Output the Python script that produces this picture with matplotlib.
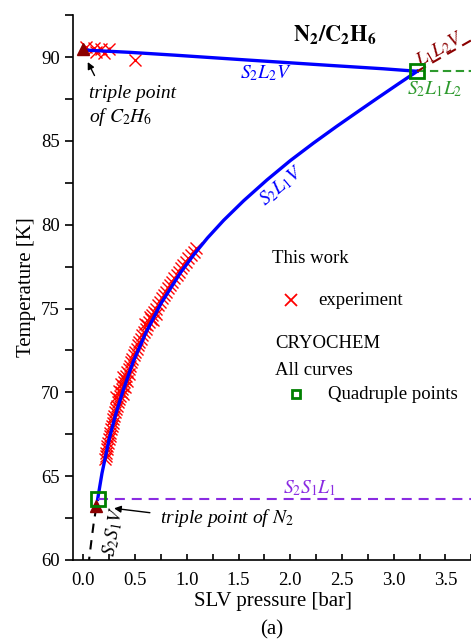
import matplotlib
matplotlib.use("Agg")
import matplotlib.pyplot as plt
from matplotlib.ticker import MultipleLocator

plt.rcParams['font.family'] = ['Liberation Serif', 'DejaVu Serif']
plt.rcParams['mathtext.fontset'] = 'stix'

# --- CRYOCHEM curves (p in bar, T in K) ---
s2l2v_p = [0.0, 0.45, 0.889, 1.517, 2.386, 2.9, 3.227]
s2l2v_T = [90.42, 90.28, 90.11, 89.85, 89.5, 89.3, 89.15]

s2l1v_p = [0.138, 0.18, 0.25, 0.31, 0.386, 0.48, 0.60, 0.75, 0.937, 1.066, 1.2,
           1.356, 1.55, 1.775, 2.0, 2.225, 2.45, 2.676, 2.85, 3.05, 3.227]
s2l1v_T = [63.62, 65.17, 67.22, 68.63, 70.14, 71.8, 73.5, 75.3, 77.12, 78.2, 79.21,
           80.26, 81.43, 82.67, 83.82, 84.87, 85.87, 86.84, 87.58, 88.42, 89.15]

s2s1v_p = [0.125, 0.10, 0.075, 0.055]
s2s1v_T = [63.15, 62.2, 61.0, 60.0]

s2s1l1_p = [0.138, 3.8]
s2s1l1_T = [63.62, 63.62]

s2l1l2_p = [3.227, 3.8]
s2l1l2_T = [89.15, 89.15]

l1l2v_p = [3.227, 3.75]
l1l2v_T = [89.15, 91.0]

# quadruple points and pure-component triple points
quad_p = [0.138, 3.227]
quad_T = [63.62, 89.15]
triple_p = [0.0, 0.125]
triple_T = [90.45, 63.2]

# --- experimental SLV points (this work) ---
exp_T = [66.0, 66.2, 66.4, 66.6, 66.8, 67.0, 67.2, 67.4, 67.6, 67.8,
         68.0, 68.2, 68.4, 68.6, 68.8, 69.0, 69.2, 69.4, 69.6, 69.8,
         70.0, 70.2, 70.4, 70.6, 70.8, 71.0, 71.2, 71.4, 71.6, 71.8,
         72.0, 72.2, 72.4, 72.6, 72.8, 73.0, 73.2, 73.4, 73.6, 73.8,
         74.0, 74.2, 74.4, 74.6, 74.8, 75.0, 75.2, 75.4, 75.6, 75.8,
         76.0, 76.2, 76.4, 76.6, 76.8, 77.0, 77.2, 77.4, 77.6, 77.8,
         78.0, 78.2, 78.4, 78.6,
         69.7, 69.9, 70.1, 70.3, 70.5, 70.7, 70.9, 71.1,
         74.1, 74.3, 74.5, 74.7,
         90.6, 90.55, 90.5, 90.45, 90.3, 90.25, 89.85]
exp_p = [0.209, 0.215, 0.221, 0.227, 0.233, 0.239, 0.246, 0.253, 0.260, 0.267,
         0.274, 0.282, 0.290, 0.298, 0.306, 0.315, 0.323, 0.332, 0.342, 0.351,
         0.362, 0.372, 0.382, 0.393, 0.404, 0.415, 0.426, 0.438, 0.450, 0.462,
         0.474, 0.487, 0.500, 0.514, 0.528, 0.542, 0.556, 0.571, 0.586, 0.601,
         0.618, 0.634, 0.651, 0.668, 0.685, 0.703, 0.721, 0.739, 0.758, 0.777,
         0.796, 0.816, 0.837, 0.858, 0.879, 0.901, 0.923, 0.945, 0.968, 0.992,
         1.015, 1.040, 1.065, 1.090,
         0.32, 0.38, 0.34, 0.40, 0.36, 0.42, 0.38, 0.44,
         0.60, 0.67, 0.64, 0.70,
         0.03, 0.10, 0.17, 0.25, 0.12, 0.20, 0.50]

fig = plt.figure(figsize=(4.71, 6.41), dpi=100)
ax = fig.add_axes([0.155, 0.1264, 0.85, 0.85])

ax.plot(exp_p, exp_T, 'x', color='red', ms=8, mew=1.0, zorder=2)

ax.plot(s2l2v_p, s2l2v_T, color='#0000ff', lw=2.4, zorder=3)
ax.plot(s2l1v_p, s2l1v_T, color='#0000ff', lw=2.4, zorder=3)
ax.plot(s2s1v_p, s2s1v_T, color='black', lw=1.5, dashes=(4.5, 3.5), zorder=3)
ax.plot(s2s1l1_p, s2s1l1_T, color='#8a2be2', lw=1.5, dashes=(4.8, 3.3), zorder=3)
ax.plot(s2l1l2_p, s2l1l2_T, color='#2e9a2e', lw=1.5, dashes=(4, 2.2), zorder=3)
ax.plot(l1l2v_p, l1l2v_T, color='#8b0000', lw=1.5, dashes=(4.8, 3.5), zorder=3)

ax.plot(triple_p, triple_T, '^', color='#8b0000', ms=9, zorder=4)
ax.plot(quad_p, quad_T, 's', mfc='none', mec='#008000', mew=2, ms=9.5, zorder=5)

# curve labels
ax.text(1.76, 89.05, r'$S_2L_2V$', color='#0000ff', fontsize=14, ha='center', va='center')
ax.text(1.91, 82.3, r'$S_2L_1V$', color='#0000ff', fontsize=14, ha='center', va='center',
        rotation=40)
ax.text(2.19, 64.3, r'$S_2S_1L_1$', color='#8a2be2', fontsize=14, ha='center', va='center')
ax.text(3.40, 88.1, r'$S_2L_1L_2$', color='#2e9a2e', fontsize=14, ha='center', va='center')
ax.text(3.45, 90.45, r'$L_1L_2V$', color='#8b0000', fontsize=14, ha='center', va='center',
        rotation=30)
ax.text(0.29, 61.7, r'$S_2S_1V$', color='black', fontsize=14, ha='center', va='center',
        rotation=80)

ax.text(2.43, 91.3, r'$\mathbf{N_2/C_2H_6}$', fontsize=16, ha='center', va='center')

# triple point annotations
ax.text(0.05, 87.85, 'triple point', fontsize=14, style='italic', va='center')
ax.text(0.05, 86.4, r'of $C_2H_6$', fontsize=14, style='italic', va='center')
ax.annotate('', xy=(0.03, 89.85), xytext=(0.12, 88.75),
            arrowprops=dict(arrowstyle='-|>', color='black', lw=1, mutation_scale=10))
ax.text(0.745, 62.5, r'triple point of $N_2$', fontsize=14, style='italic', va='center')
ax.annotate('', xy=(0.27, 63.1), xytext=(0.67, 62.8),
            arrowprops=dict(arrowstyle='-|>', color='black', lw=1, mutation_scale=10))

# hand-made legend
ax.text(1.826, 78.0, 'This work', fontsize=13.5, va='center')
ax.plot([2.01], [75.5], 'x', color='red', ms=9, mew=1.3)
ax.text(2.27, 75.5, 'experiment', fontsize=13.5, va='center')
ax.text(1.855, 72.94, 'CRYOCHEM', fontsize=13.5, va='center')
ax.text(1.855, 71.33, 'All curves', fontsize=13.5, va='center')
ax.plot([2.058], [69.9], 's', mfc='none', mec='#008000', mew=2, ms=6)
ax.text(2.367, 69.9, 'Quadruple points', fontsize=13.5, va='center')

ax.set_xlim(-0.1, 3.77)
ax.set_ylim(60, 92.5)
ax.xaxis.set_major_locator(MultipleLocator(0.5))
ax.xaxis.set_minor_locator(MultipleLocator(0.25))
ax.yaxis.set_major_locator(MultipleLocator(5))
ax.yaxis.set_minor_locator(MultipleLocator(2.5))
ax.xaxis.set_major_formatter(plt.FormatStrFormatter('%.1f'))
ax.tick_params(axis='x', which='both', direction='in', length=4, width=1.2, labelsize=13.5, pad=9)
ax.tick_params(axis='y', which='both', direction='out', length=6, width=1.2, labelsize=13.5)

for side in ['top', 'right']:
    ax.spines[side].set_visible(False)
for side in ['left', 'bottom']:
    ax.spines[side].set_linewidth(1.2)

ax.set_xlabel('SLV pressure [bar]', fontsize=15, labelpad=2)
ax.set_ylabel('Temperature [K]', fontsize=15, labelpad=4)
fig.text(0.577, 0.017, '(a)', fontsize=15, ha='center', va='center')

fig.savefig('out.png', dpi=100)
